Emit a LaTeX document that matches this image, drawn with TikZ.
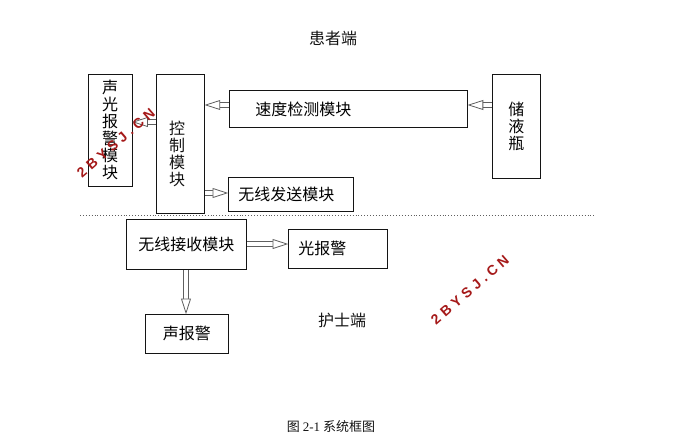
\documentclass[tikz,border=0pt]{standalone}
\usepackage{fontspec}
\setmainfont{Liberation Serif}
\newfontfamily\cjk{Noto Sans CJK SC}
\newfontfamily\wmfont[LetterSpace=30]{Liberation Sans}
\usepackage{xcolor}
\usetikzlibrary{arrows.meta,positioning,calc,shapes.geometric}
\definecolor{ink}{RGB}{20,20,20}
\definecolor{shaft}{RGB}{95,95,95}
\definecolor{stamp}{RGB}{165,25,25}
\tikzset{
  block/.style={draw=ink,line width=0.8pt,fill=white,inner sep=0pt,font=\cjk\fontsize{16}{17}\selectfont},
  vblock/.style={block,align=center},
  hollow/.style={draw=shaft,line width=6pt,shorten >=8pt,
    postaction={draw=white,line width=4.2pt,shorten >=7pt}},
  headtip/.style={isosceles triangle,isosceles triangle stretches,shape border rotate=0,
    draw=shaft,fill=white,line width=0.8pt,inner sep=0pt,minimum width=9pt,minimum height=14pt,
    anchor=apex,sloped,allow upside down,pos=1},
  label/.style={font=\cjk\fontsize{16}{17}\selectfont,text=ink},
  mark2b/.style={font=\wmfont\bfseries\fontsize{14}{14}\selectfont,text=stamp,rotate=41}
}
\begin{document}
\begin{tikzpicture}[x=1pt,y=-1pt]
  \useasboundingbox (0,0) rectangle (674,447);
  % patient side
  \node[label] (pside) at (333,38) {患者端};
  \node[vblock,minimum width=44pt,minimum height=112pt] (alarm) at (110,130)
    {声\\光\\报\\警\\模\\块};
  \node[vblock,minimum width=48pt,minimum height=139pt,anchor=north west] (ctrl) at (156,74) {};
  \node[label,align=center] (ctrltxt) at (177,154) {控\\制\\模\\块};
  \node[block,minimum width=238pt,minimum height=37pt,anchor=north west,
    text width=238pt,align=left] (speed) at (229,90) {\hspace*{26pt}速度检测模块};
  \node[vblock,minimum width=48pt,minimum height=104pt,anchor=north west] (bottle) at (492,74)
    {储\\液\\瓶};
  \node[block,minimum width=125pt,minimum height=34pt,anchor=north west,
    text width=125pt,align=left] (send) at (228,177) {\hspace*{10pt}无线发送模块};
  % divider
  \draw[shaft,dotted,line width=0.9pt] (80,215) coordinate (dl) -- (596,215) coordinate (dr);
  % nurse side
  \node[block,minimum width=120pt,minimum height=50pt,anchor=north west,
    text width=120pt,align=center] (recv) at (126,219) {无线接收模块\\[16pt]};
  \node[block,minimum width=99pt,minimum height=39pt,anchor=north west,
    text width=99pt,align=left] (light) at (288,229) {\hspace*{10pt}光报警\\[-6pt]};
  \node[block,minimum width=83pt,minimum height=39pt,anchor=north west] (sound) at (145,314) {声报警};
  \node[label] (nside) at (342,320) {护士端};
  % connectors
  \draw[hollow] (speed.west |- 0,105) -- (ctrl.east |- 0,105) node[headtip] (h1) {};
  \draw[hollow] (bottle.west |- 0,105) -- (speed.east |- 0,105) node[headtip] (h2) {};
  \draw[hollow] (ctrl.east |- 0,193) -- (send.west |- 0,193) node[headtip] (h3) {};
  \draw[hollow] (ctrl.west |- 0,122) -- (alarm.east |- 0,122) node[headtip] (h4) {};
  \draw[hollow] (recv.east |- 0,244) -- (light.west |- 0,244) node[headtip] (h5) {};
  \draw[hollow] (recv.south -| 186,0) -- (sound.north -| 186,0) node[headtip] (h6) {};
  % caption
  \node[font=\cjk\fontsize{13}{15}\selectfont,text=ink] (cap) at (331,427)
    {图 {\rmfamily 2-1} 系统框图};
  % stamps
  \node[mark2b] (wm1) at (116,143) {2BYSJ.CN};
  \node[mark2b] (wm2) at (470,290) {2BYSJ.CN};
\end{tikzpicture}
\end{document}
